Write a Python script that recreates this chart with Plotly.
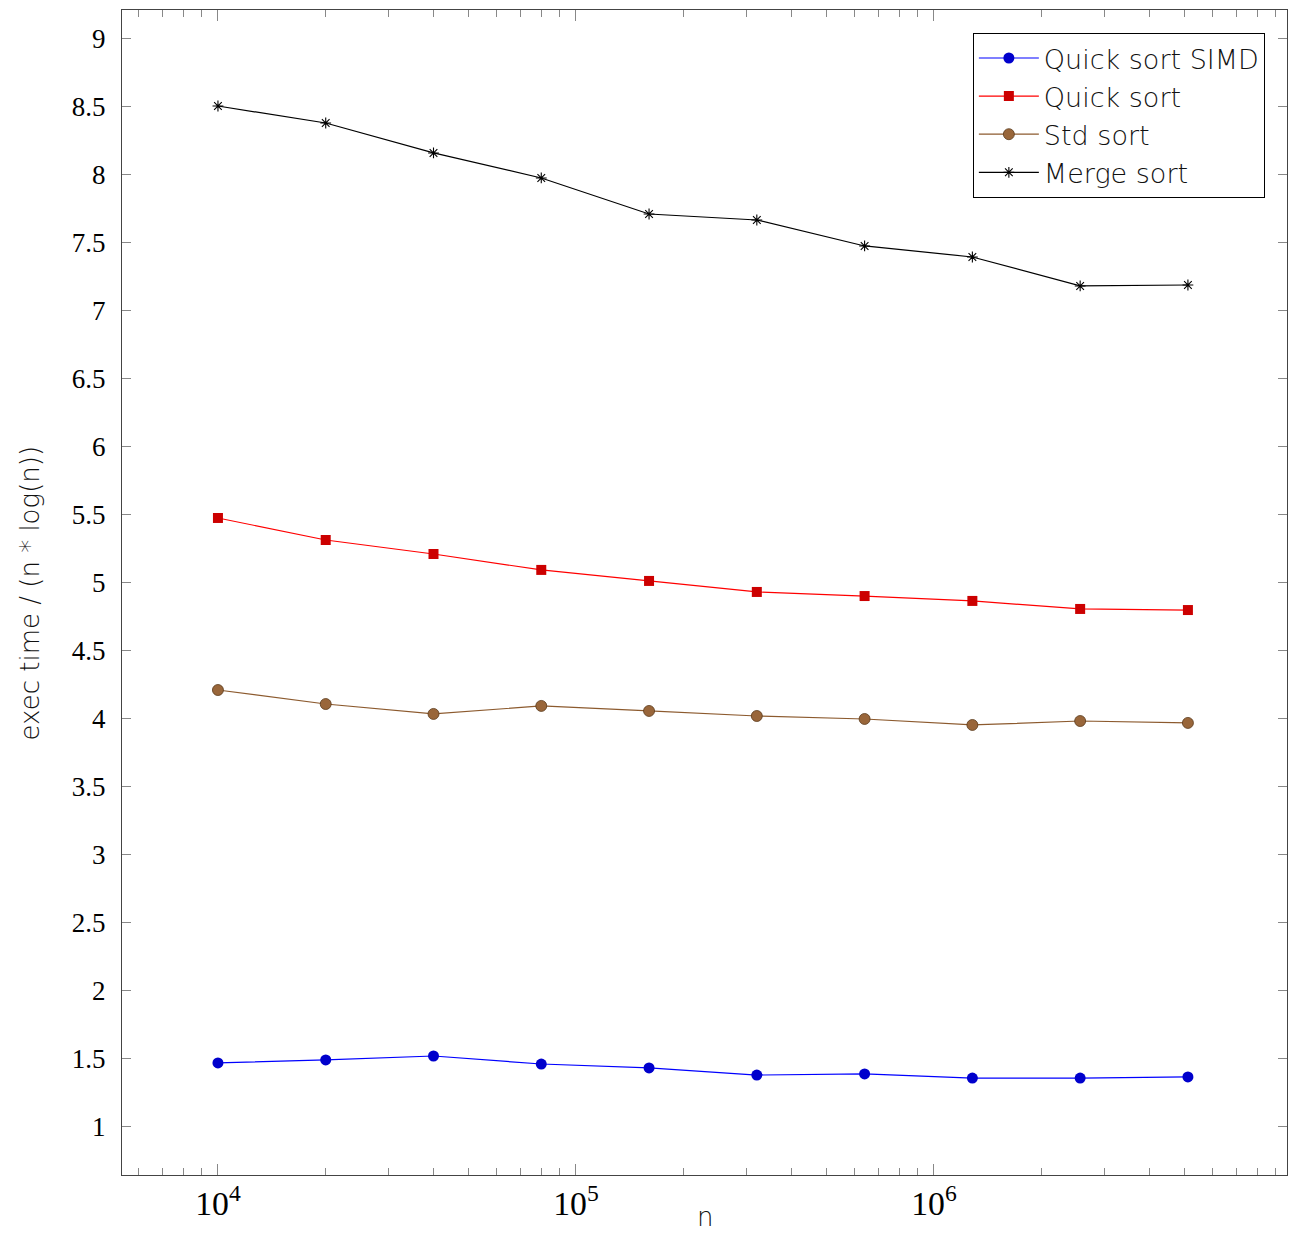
import plotly.graph_objects as go

n_values = [10000, 20000, 40000, 80000, 160000, 320000, 640000, 1280000, 2560000, 5120000]
quick_simd = [1.471, 1.493, 1.522, 1.463, 1.434, 1.382, 1.390, 1.360, 1.360, 1.368]
quick_sort = [5.478, 5.316, 5.213, 5.096, 5.015, 4.934, 4.904, 4.868, 4.809, 4.801]
std_sort = [4.213, 4.110, 4.037, 4.096, 4.059, 4.022, 4.000, 3.956, 3.985, 3.971]
merge_sort = [8.507, 8.382, 8.162, 7.978, 7.713, 7.669, 7.478, 7.397, 7.184, 7.191]
y_ticks = [1, 1.5, 2, 2.5, 3, 3.5, 4, 4.5, 5, 5.5, 6, 6.5, 7, 7.5, 8, 8.5, 9]

fig = go.Figure()
fig.add_trace(go.Scatter(x=n_values, y=quick_simd, name="Quick sort SIMD", mode="lines+markers",
                         line=dict(color="#0000ff", width=1.2),
                         marker=dict(symbol="circle", size=11, color="#0000cc", line=dict(width=0))))
fig.add_trace(go.Scatter(x=n_values, y=quick_sort, name="Quick sort", mode="lines+markers",
                         line=dict(color="#ff0000", width=1.2),
                         marker=dict(symbol="square", size=10, color="#cc0000", line=dict(width=0))))
fig.add_trace(go.Scatter(x=n_values, y=std_sort, name="Std sort", mode="lines+markers",
                         line=dict(color="#8c5a2e", width=1.2),
                         marker=dict(symbol="circle", size=11, color="#99663a", line=dict(width=0.8, color="#5a3a1a"))))
fig.add_trace(go.Scatter(x=n_values, y=merge_sort, name="Merge sort", mode="lines+markers",
                         line=dict(color="#000000", width=1.2),
                         marker=dict(symbol="asterisk-open", size=9, color="#000000", line=dict(width=1.1, color="#000000"))))

tick_font = dict(family="Liberation Serif", size=27, color="#000")
label_font = dict(family="DejaVu Sans", size=26, color="#111", weight=200)
legend_font = dict(family="DejaVu Sans", size=27, color="#111", weight=200)
fig.update_layout(
    width=1280, height=1226,
    paper_bgcolor="white", plot_bgcolor="white",
    margin=dict(l=114, r=1, t=2, b=59),
    showlegend=True,
    legend=dict(x=0.981, y=0.9803, xanchor="right", yanchor="top",
                bgcolor="white", bordercolor="#000", borderwidth=1,
                font=legend_font, itemwidth=60, tracegroupgap=0),
    xaxis=dict(type="log", range=[3.732, 6.986], dtick=1, exponentformat="power",
               showgrid=False, zeroline=False, showline=True, linecolor="#444", linewidth=1.2,
               mirror="ticks", ticks="inside", ticklen=11, tickcolor="#888",
               tickfont=tick_font, automargin=False, ticklabelstandoff=0,
               minor=dict(ticks="inside", ticklen=7, tickcolor="#888", dtick="D1", showgrid=False)),
    yaxis=dict(range=[0.647, 9.213], tickvals=y_ticks, ticktext=[f"{v:g}" for v in y_ticks],
               showgrid=False, zeroline=False, showline=True, linecolor="#444", linewidth=1.2,
               mirror="ticks", ticks="inside", ticklen=9, tickcolor="#888",
               tickfont=tick_font, automargin=False, ticklabelstandoff=10),
    annotations=[
        dict(text="n", xref="paper", yref="paper", x=0.5, y=-0.0495, xanchor="center", yanchor="bottom",
             showarrow=False, font=label_font, borderpad=0),
        dict(text="exec time / (n * log(n))", xref="paper", yref="paper", x=-0.079, y=0.5,
             xanchor="center", yanchor="middle", textangle=-90, showarrow=False, font=label_font),
    ],
)

fig.write_html("out.html")
